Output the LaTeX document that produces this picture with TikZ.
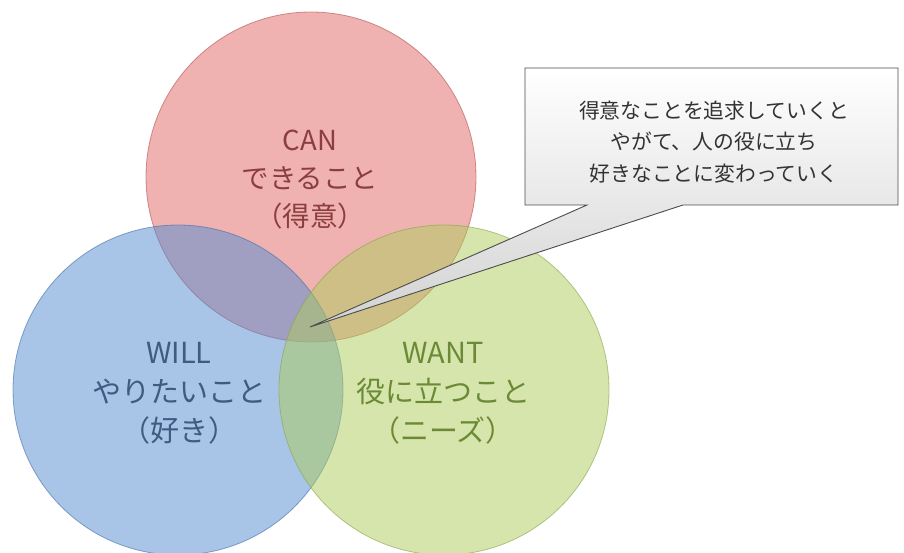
\documentclass[tikz,border=0pt]{standalone}
\usepackage{fontspec}
\setmainfont{Noto Sans CJK JP}
\definecolor{canbase}{RGB}{224,102,100}
\definecolor{willbase}{RGB}{83,139,209}
\definecolor{wantbase}{RGB}{173,205,91}
\definecolor{cantext}{RGB}{140,62,62}
\definecolor{willtext}{RGB}{62,92,128}
\definecolor{wanttext}{RGB}{108,138,54}
\tikzset{
  venn/.style={circle, minimum size=330pt, inner sep=0pt, fill opacity=0.5, draw opacity=0.6, line width=0.8pt},
  vlabel/.style={align=center, font=\fontsize{29}{39}\selectfont},
  calltext/.style={align=center, font=\fontsize{20.8}{31.5}\selectfont, text=black!80},
}
\begin{document}
\begin{tikzpicture}[x=1pt,y=-1pt]
\useasboundingbox (0,0) rectangle (904,553);
\fill[white] (0,0) rectangle (904,553);
\node[venn, fill=canbase, draw=canbase!80!black] (can) at (311,177) {};
\node[venn, fill=willbase, draw=willbase!80!black] (will) at (178,390) {};
\node[venn, fill=wantbase, draw=wantbase!80!black] (want) at (444,390) {};
\node[vlabel, text=cantext, font=\fontsize{27.5}{38}\selectfont] (canlbl) at (310,180) {CAN\\できること\\（得意）};
\node[vlabel, text=willtext] (willlbl) at (179,393) {WILL\\やりたいこと\\（好き）};
\node[vlabel, text=wanttext] (wantlbl) at (443,393) {WANT\\役に立つこと\\（ニーズ）};
\coordinate (tip) at (310,327);
\shade[top color=white, bottom color=gray!35, draw=gray!60!black, line width=0.9pt, line join=miter]
  (525,68) -- (898,68) -- (898,205) -- (683,205) -- (tip) -- (587,205) -- (525,205) -- cycle;
\node[calltext] (call) at (714,142) {得意なことを追求していくと\\やがて、人の役に立ち\\好きなことに変わっていく};
\end{tikzpicture}
\end{document}
